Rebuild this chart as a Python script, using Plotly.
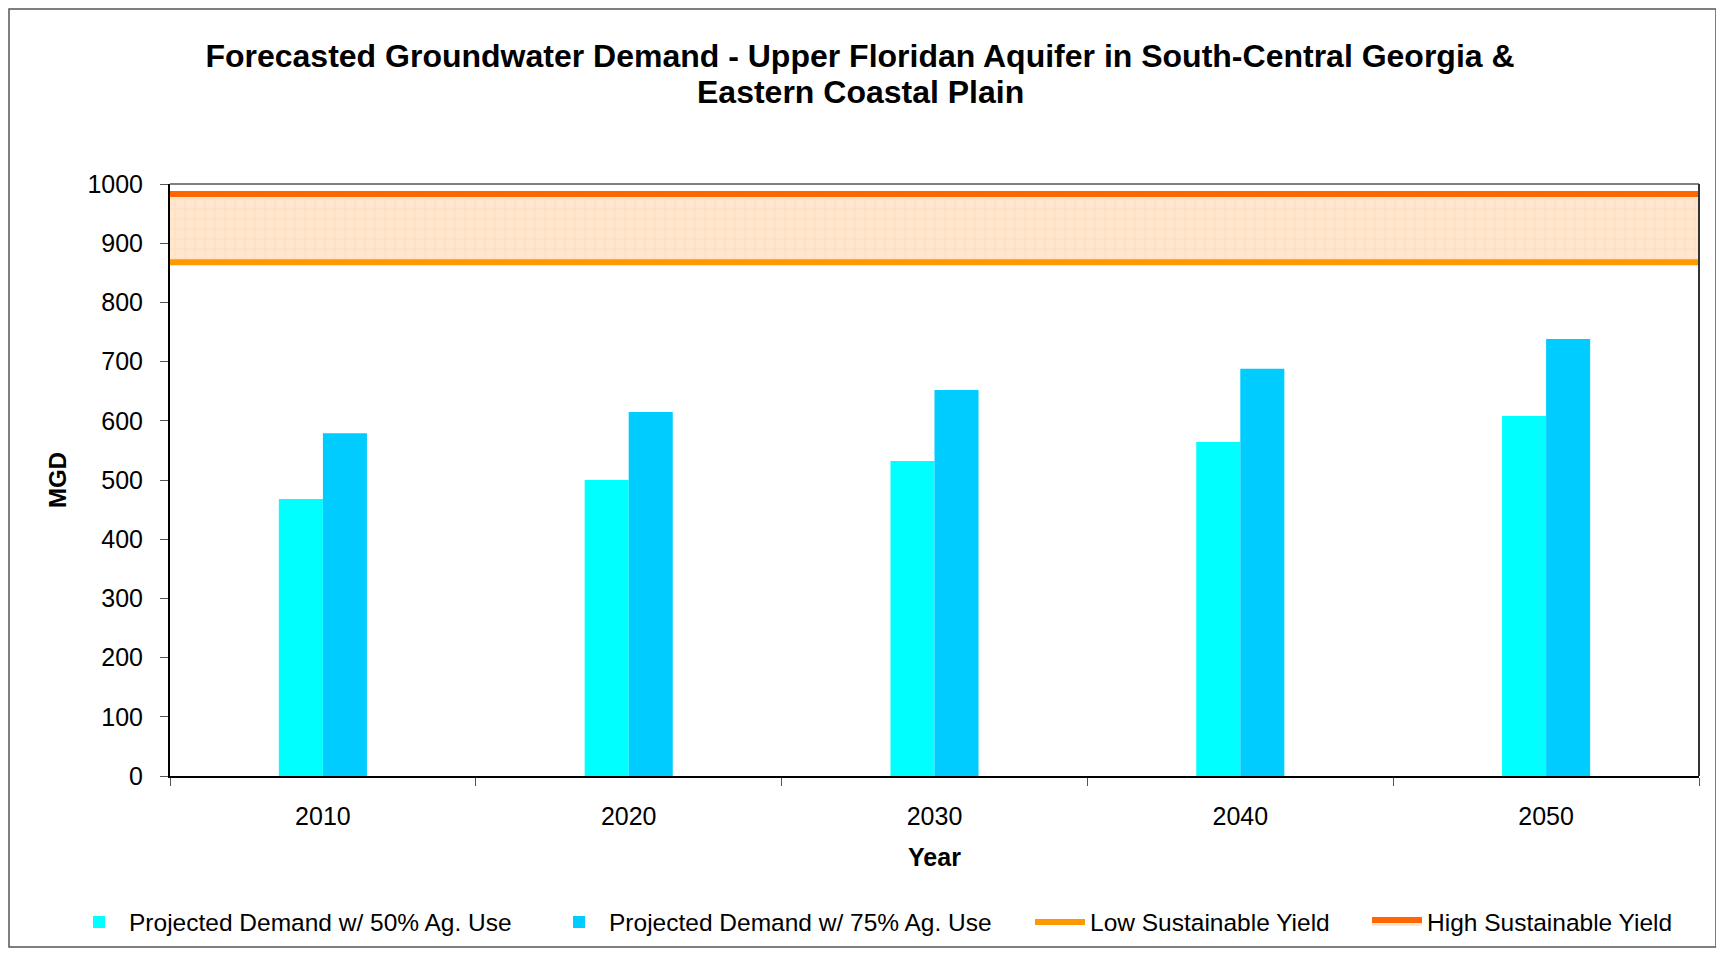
import plotly.graph_objects as go

years = ["2010", "2020", "2030", "2040", "2050"]
demand_50 = [468, 500, 532, 564, 608]
demand_75 = [579, 615, 652, 688, 738]
low_yield = 868
high_yield = 983
y_ticks = [0, 100, 200, 300, 400, 500, 600, 700, 800, 900, 1000]

FONT = "Liberation Sans, Arial, sans-serif"

# page body has an 8px margin; plot area should sit at x 170-1699, y 184-776 of the window
PW, PH = 1529, 592

fig = go.Figure()
fig.add_trace(go.Bar(x=years, y=demand_50, name="Projected Demand w/ 50% Ag. Use",
                     marker=dict(color="#00FFFF", line=dict(width=0)), legend="legend"))
fig.add_trace(go.Bar(x=years, y=demand_75, name="Projected Demand w/ 75% Ag. Use",
                     marker=dict(color="#00CCFF", line=dict(width=0)), legend="legend2"))
fig.add_trace(go.Scatter(x=[0, 1], y=[low_yield, low_yield], xaxis="x2", mode="lines",
                         name="Low Sustainable Yield", line=dict(color="#FF9900", width=6),
                         legend="legend3"))
fig.add_trace(go.Scatter(x=[0, 1], y=[high_yield, high_yield], xaxis="x2", mode="lines",
                         name="High Sustainable Yield", line=dict(color="#FF6600", width=6),
                         fill="tonexty", fillcolor="#FFE4C8",
                         fillpattern=dict(shape="+", fgcolor="#FFC994", bgcolor="#FFE6CE",
                                          size=10, solidity=0.12),
                         legend="legend4"))


def legend_at(px_left):
    return dict(orientation="h", x=(px_left - 170) / PW, xanchor="left",
                y=(776 - 922) / PH, yanchor="middle",
                font=dict(size=24.5, family=FONT), itemwidth=50,
                bgcolor="rgba(0,0,0,0)")


fig.update_layout(
    width=1708, height=940,
    paper_bgcolor="white", plot_bgcolor="white",
    margin=dict(l=162, r=17, t=176, b=172, autoexpand=False),
    font=dict(family=FONT, color="black", size=25),
    title=dict(text="<b>Forecasted Groundwater Demand - Upper Floridan Aquifer in South-Central Georgia &</b>",
               x=(860 - 170) / PW, xref="paper", xanchor="center",
               y=1 - (56 - 8) / 940, yref="container", yanchor="middle",
               font=dict(size=32, family=FONT)),
    annotations=[
        dict(text="<b>Eastern Coastal Plain</b>", xref="paper", yref="paper",
             x=(860 - 170) / PW, y=1 + (184 - 92) / PH, xanchor="center", yanchor="middle",
             showarrow=False, font=dict(size=32, family=FONT)),
    ],
    barmode="group", bargap=0.712, bargroupgap=0,
    showlegend=True,
    legend=legend_at(69),
    legend2=legend_at(549),
    legend3=legend_at(1030),
    legend4=legend_at(1367),
    xaxis=dict(type="category", tickson="boundaries", ticks="outside", ticklen=8,
               tickcolor="#555", showline=True, linecolor="black", linewidth=2,
               showgrid=False, ticklabelstandoff=17, tickfont=dict(size=25),
               title=dict(text="<b>Year</b>", font=dict(size=25), standoff=19)),
    xaxis2=dict(overlaying="x", range=[0, 1], visible=False, fixedrange=True),
    yaxis=dict(range=[0, 1000], tickvals=y_ticks, ticks="outside", ticklen=8,
               tickcolor="#555", showline=True, linecolor="black", linewidth=2,
               showgrid=False, zeroline=False, ticklabelstandoff=12, tickfont=dict(size=25),
               title=dict(text="<b>MGD</b>", font=dict(size=24), standoff=14)),
    shapes=[
        dict(type="line", xref="paper", yref="paper", x0=0, x1=1, y0=1, y1=1,
             line=dict(color="#808080", width=2)),
        dict(type="line", xref="paper", yref="paper", x0=1, x1=1, y0=0, y1=1,
             line=dict(color="#333", width=2)),
        dict(type="rect", xref="paper", yref="paper",
             x0=(9 - 170) / PW, x1=(1716 - 170) / PW,
             y0=(776 - 947) / PH, y1=1 + (184 - 9) / PH,
             line=dict(color="#555", width=1.5)),
    ],
)

fig.write_html("out.html")
